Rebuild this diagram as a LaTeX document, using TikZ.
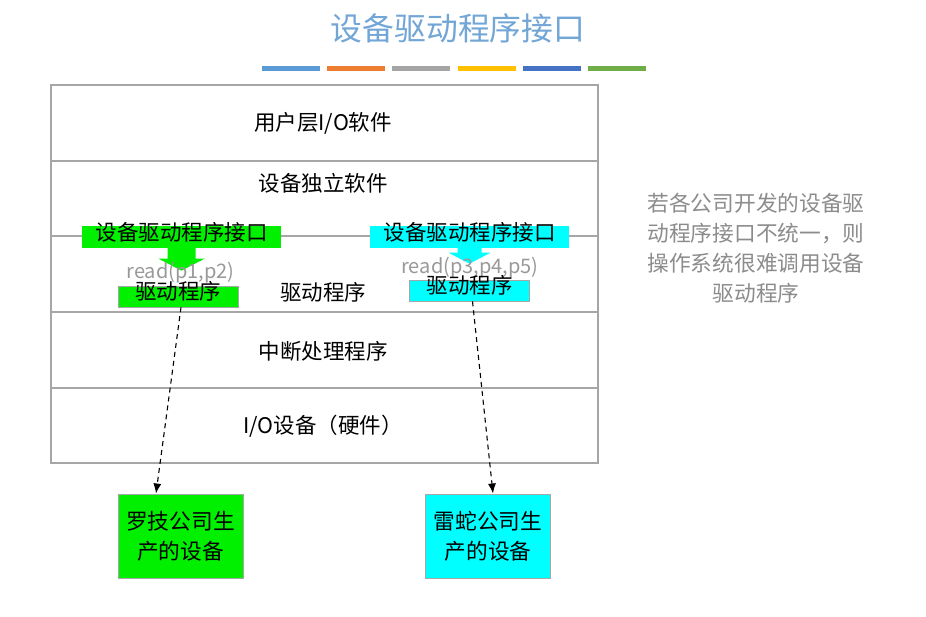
\documentclass[tikz,border=0pt]{standalone}
\usepackage{fontspec}
\setmainfont{Noto Sans CJK SC}
\usetikzlibrary{arrows.meta,calc}
\definecolor{lyr}{HTML}{A6A6A6}
\definecolor{gr}{HTML}{00F000}
\definecolor{cy}{HTML}{00FFFF}
\definecolor{ttl}{HTML}{72A6D6}
\definecolor{txtgray}{HTML}{8C8C8C}
\definecolor{rdgray}{HTML}{999999}
\definecolor{b1}{HTML}{5B9BD5}
\definecolor{b2}{HTML}{ED7D31}
\definecolor{b3}{HTML}{A5A5A5}
\definecolor{b4}{HTML}{FFC000}
\definecolor{b5}{HTML}{4472C4}
\definecolor{b6}{HTML}{70AD47}
\tikzset{
  lbl/.style={font=\fontsize{21.5}{25}\selectfont, inner sep=0pt},
  ifbox/.style={lbl, minimum width=199pt, minimum height=22pt, text height=0.8em, text depth=0.1em},
  drvbox/.style={lbl, draw=lyr, line width=0.6pt, minimum width=120pt, minimum height=21pt, text height=0.78em, text depth=0.12em},
  devbox/.style={draw=lyr, line width=1pt, minimum width=125pt, minimum height=84pt, inner sep=0pt, align=center,
    font=\fontsize{21.7}{30}\selectfont},
  rdtxt/.style={font=\fontsize{20}{22}\selectfont, text=rdgray, inner sep=0pt},
  dasharrow/.style={dashed, dash pattern=on 5pt off 4pt, line width=1.1pt, -{Latex[length=10pt,width=8pt]}}
}
\begin{document}
\begin{tikzpicture}[x=1pt,y=-1pt]
\useasboundingbox (0,0) rectangle (926,616);
\fill[white] (0,0) rectangle (926,616);

% title
\node[font=\fontsize{31.8}{36}\selectfont, text=ttl, inner sep=0pt] (title) at (458,28) {设备驱动程序接口};
% colour bars
\foreach \c [count=\i from 0] in {b1,b2,b3,b4,b5,b6}
  \fill[\c] (262+\i*65.2,65.5) rectangle ++(58,5.5);

% layer stack
\node[draw=lyr, line width=1.2pt, minimum width=547pt, minimum height=378pt, inner sep=0pt] (stack) at (324.5,274) {};
\foreach \yy in {161,236,312,388}
  \draw[lyr, line width=1.2pt] (stack.west |- 0,\yy) -- (stack.east |- 0,\yy);

\node[lbl] (l1) at (323,123) {用户层I/O软件};
\node[lbl] (l2) at (323,183) {设备独立软件};
\node[lbl] (l3) at (323,292) {驱动程序};
\node[lbl] (l4) at (323,351) {中断处理程序};
\node[lbl] (l5) at (323,426) {I/O设备（硬件）};

% left (green) interface
\node[ifbox, fill=gr] (lif) at (181.5,236.5) {设备驱动程序接口};
\fill[gr] (lif.south) ++(-14,0) -- ++(0,11) -- ++(-9,0) -- ++(23,12) -- ++(23,-12) -- ++(-9,0) -- ++(0,-11) -- cycle;
\node[rdtxt] (lrd) at (180.5,273) {read(p1,p2)};
\node[drvbox, fill=gr] (lsm) at (178,296.5) {驱动程序};

% right (cyan) interface
\node[ifbox, fill=cy] (rif) at (469.5,236.5) {设备驱动程序接口};
\fill[cy] (rif.south) ++(-12,0) -- ++(0,5) -- ++(-9,0) -- ++(21,11) -- ++(21,-11) -- ++(-9,0) -- ++(0,-5) -- cycle;
\node[rdtxt] (rrd) at (470,267.5) {read(p3,p4,p5)};
\node[drvbox, fill=cy] (rsm) at (469.5,290.5) {驱动程序};

% devices
\node[devbox, fill=gr] (lbot) at (180.5,536) {罗技公司生\\产的设备};
\node[devbox, fill=cy] (rbot) at (488,536) {雷蛇公司生\\产的设备};

\draw[dasharrow] ([xshift=3pt]lsm.south) -- ([xshift=-24.5pt]lbot.north);
\draw[dasharrow] ([xshift=3pt]rsm.south) -- ([xshift=5pt]rbot.north);

% note
\node[font=\fontsize{21.7}{30}\selectfont, text=txtgray, align=center, inner sep=0pt] (note) at (756,248)
  {若各公司开发的设备驱\\动程序接口不统一，则\\操作系统很难调用设备\\驱动程序};
\end{tikzpicture}
\end{document}
